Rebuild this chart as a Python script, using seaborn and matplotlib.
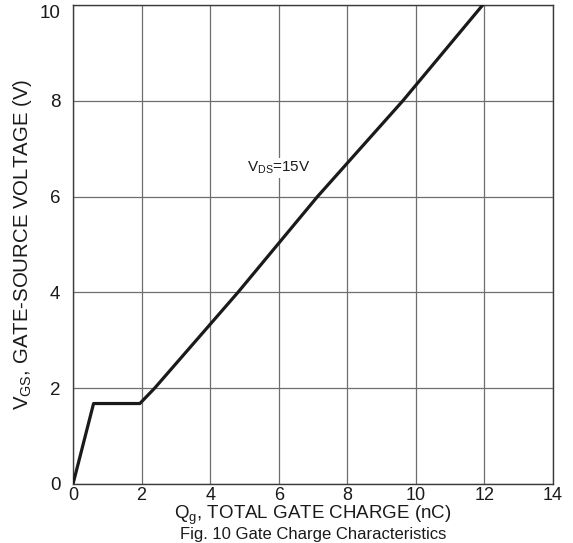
import matplotlib
matplotlib.use("Agg")
import matplotlib.pyplot as plt
import seaborn as sns
import pandas as pd

# Data
qg = [0.0, 0.6, 1.95, 2.38, 4.81, 7.13, 9.62, 11.95]
vgs = [0.0, 1.68, 1.68, 2.0, 4.0, 6.0, 8.0, 10.0]
x_ticks = [0, 2, 4, 6, 8, 10, 12, 14]
y_ticks = [0, 2, 4, 6, 8, 10]
annotation = r"$\mathregular{V_{DS}}$=15V"
x_label = r"$\mathregular{Q_{g}}$, TOTAL GATE CHARGE (nC)"
y_label = r"$\mathregular{V_{GS}}$, GATE-SOURCE VOLTAGE (V)"
caption = "Fig. 10 Gate Charge Characteristics"

sns.set_style("white")
plt.rcParams["font.family"] = ["Liberation Sans", "DejaVu Sans"]
plt.rcParams["mathtext.fontset"] = "custom"
plt.rcParams["mathtext.rm"] = "Liberation Sans"

df = pd.DataFrame({"Qg": qg, "Vgs": vgs})

fig = plt.figure(figsize=(5.73, 5.43), dpi=100)
ax = fig.add_axes([73 / 573, 1 - 484 / 543, 480 / 573, 479 / 543])

sns.lineplot(data=df, x="Qg", y="Vgs", ax=ax, color="#1a1a1a", linewidth=2.3,
             sort=False, estimator=None, zorder=3)

ax.set_xlim(0, 14)
ax.set_ylim(0, 10)
ax.set_xticks(x_ticks)
ax.set_yticks(y_ticks)
ax.set_xticklabels([str(t) for t in x_ticks], fontsize=13)
ax.set_yticklabels([str(t) for t in y_ticks], fontsize=13.5)
ax.tick_params(axis="both", length=0, colors="#1a1a1a")
ax.tick_params(axis="x", pad=2)
ax.tick_params(axis="y", pad=9)
ax.grid(True, color="#6e6e6e", linewidth=0.9)
for s in ax.spines.values():
    s.set_color("#3a3a3a")
    s.set_linewidth(1.0)
# top y tick label sits just inside the figure, as in the reference
ax.get_yticklabels()[-1].set_verticalalignment("top")

ax.set_xlabel(x_label, fontsize=13.5, color="#1a1a1a", labelpad=0)
ax.set_ylabel(y_label, fontsize=14.7, color="#1a1a1a", labelpad=4)

ax.text(6.0, 6.6, annotation, fontsize=11, color="#1a1a1a", ha="center", va="center",
        bbox=dict(facecolor="white", edgecolor="none", pad=1.5), zorder=2)

# Place caption just below the x label, shrinking it until it fits in the figure
fig.canvas.draw()
renderer = fig.canvas.get_renderer()
xl_bottom = ax.xaxis.label.get_window_extent(renderer).y0
fs = 12.0
cap = fig.text(313 / 573, (xl_bottom - 0.5) / fig.bbox.height, caption, fontsize=fs,
               color="#1a1a1a", ha="center", va="top")
while fs > 8:
    fig.canvas.draw()
    if cap.get_window_extent(renderer).y0 >= 0.5:
        break
    fs -= 0.25
    cap.set_fontsize(fs)

fig.savefig("out.png", dpi=100)
